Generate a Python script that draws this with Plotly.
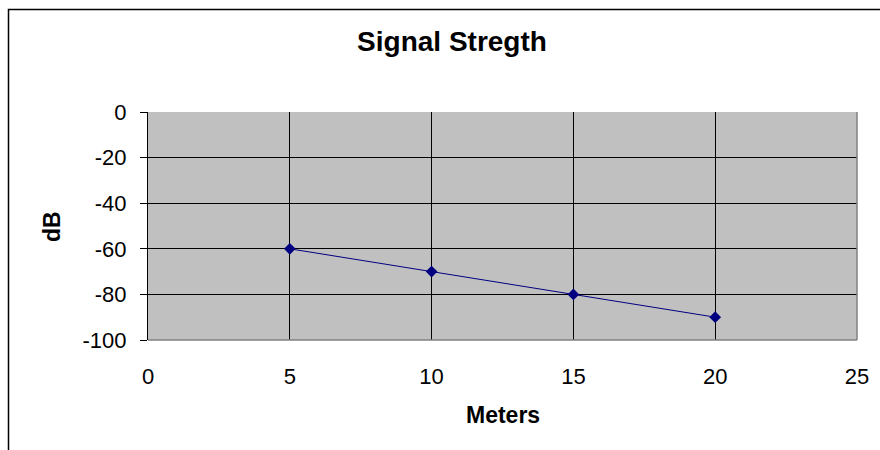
import plotly.graph_objects as go

meters = [5, 10, 15, 20]
signal_db = [-60, -70, -80, -90]
x_ticks = [0, 5, 10, 15, 20, 25]
y_ticks = [0, -20, -40, -60, -80, -100]
y_tick_text = ["0", "-20", "-40", "-60", "-80", "-100"]

W, H = 880, 450
L, R, T, B = 148, 23, 112, 110
pw, ph = W - L - R, H - T - B

fig = go.Figure()
fig.add_trace(go.Scatter(
    x=meters, y=signal_db, mode="lines+markers",
    line=dict(color="#000080", width=1),
    marker=dict(symbol="diamond", size=9, color="#000080"),
    showlegend=False,
))

font = "Liberation Sans, Arial, sans-serif"
fig.update_layout(
    width=W, height=H,
    margin=dict(l=L, r=R, t=T, b=B),
    paper_bgcolor="white", plot_bgcolor="#C0C0C0",
    font=dict(family=font, color="black", size=22),
    title=dict(text="<b>Signal Stregth</b>", font=dict(size=28, family=font),
               xref="container", yref="container", x=452 / W, y=1 - 41 / H,
               xanchor="center", yanchor="middle"),
    xaxis=dict(range=[0, 25], tickvals=x_ticks, showgrid=True, gridcolor="black",
               gridwidth=1, zeroline=False, showline=False, ticks="",
               ticklabelstandoff=21, tickfont=dict(size=22)),
    yaxis=dict(range=[-100, 0], tickvals=y_ticks, ticktext=y_tick_text,
               showgrid=True, gridcolor="black",
               gridwidth=1, zeroline=False, showline=True, linecolor="black",
               linewidth=1, ticks="outside", ticklen=7, tickcolor="black",
               ticklabelstandoff=9, tickfont=dict(size=22)),
    annotations=[
        dict(text="<b>Meters</b>", xref="paper", yref="paper", x=0.5,
             y=-(415 - (T + ph)) / ph, xanchor="center", yanchor="middle",
             showarrow=False, font=dict(size=23)),
        dict(text="<b>dB</b>", xref="paper", yref="paper", x=-(L - 52) / pw,
             y=0.5, xanchor="center", yanchor="middle", textangle=-90,
             showarrow=False, font=dict(size=23)),
    ],
    shapes=[
        dict(type="line", xref="paper", yref="paper", x0=0, x1=1, y0=0, y1=0,
             line=dict(color="#808080", width=1.5), layer="above"),
        dict(type="line", xref="paper", yref="paper", x0=1, x1=1, y0=0, y1=1,
             line=dict(color="#808080", width=1.5), layer="above"),
        dict(type="rect", xref="paper", yref="paper",
             x0=-(L - 8.5) / pw, x1=1 + (R + 10) / pw,
             y0=-(B + 10) / ph, y1=1 + (T - 9.5) / ph,
             line=dict(color="black", width=1.5), fillcolor="rgba(0,0,0,0)",
             layer="below"),
    ],
)

fig.write_html("out.html")
